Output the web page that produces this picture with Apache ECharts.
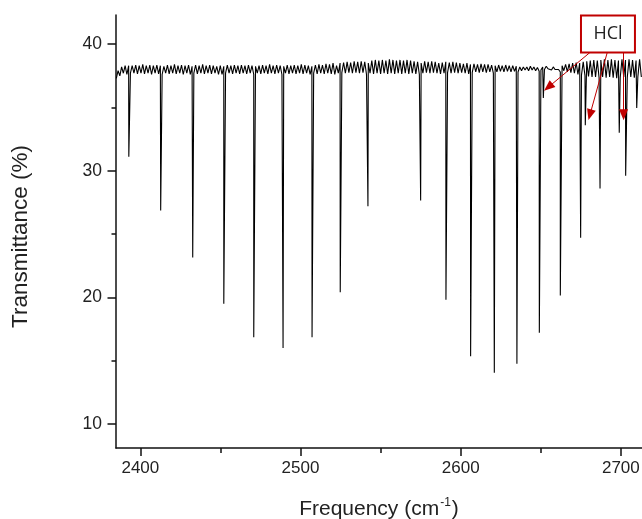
<!DOCTYPE html>
<html>
<head>
<meta charset="utf-8">
<script src="https://cdn.jsdelivr.net/npm/echarts@6/dist/echarts.min.js"></script>
<style>
html,body{margin:0;padding:0;background:#fff;}
#chart{width:642px;height:519px;}
</style>
</head>
<body>
<div id="chart"></div>
<script>
// ---- data ----
const xTicks = [2400, 2500, 2600, 2700];
const xMinorTicks = [2450, 2550, 2650];
const yTicks = [10, 20, 30, 40];
const yMinorTicks = [15, 25, 35];

// baseline (interference fringe) sampled on a regular grid
const fringeStart = 2385.0;
const fringeStep = 1.1;
const fringeValues = [
  37.3, 37.9, 37.5, 38.2, 37.7, 38.3, 37.6, 38.3, 37.7, 38.3,
  37.7, 38.35, 37.65, 38.3, 37.7, 38.4, 37.65, 38.3, 37.7, 38.35,
  37.6, 38.3, 37.7, 38.35, 37.65, 38.3, 37.6, 38.25, 37.7, 38.35,
  37.65, 38.3, 37.7, 38.4, 37.65, 38.3, 37.7, 38.35, 37.6, 38.3,
  37.7, 38.35, 37.6, 38.25, 37.7, 38.35, 37.65, 38.3, 37.7, 38.4,
  37.65, 38.3, 37.7, 38.35, 37.65, 38.3, 37.7, 38.25, 37.6, 38.3,
  37.6, 38.25, 37.7, 38.35, 37.7, 38.3, 37.65, 38.35, 37.7, 38.3,
  37.65, 38.35, 37.7, 38.3, 37.65, 38.35, 37.7, 38.3, 37.6, 38.25,
  37.7, 38.3, 37.65, 38.35, 37.7, 38.3, 37.65, 38.4, 37.7, 38.3,
  37.65, 38.35, 37.7, 38.3, 37.6, 38.25, 37.7, 38.35, 37.65, 38.3,
  37.7, 38.35, 37.65, 38.3, 37.7, 38.4, 37.65, 38.35, 37.7, 38.3,
  37.6, 38.25, 37.7, 38.35, 37.65, 38.4, 37.7, 38.35, 37.65, 38.45,
  37.7, 38.4, 37.65, 38.5, 37.6, 38.3, 37.7, 38.5, 37.75, 38.55,
  37.7, 38.6, 37.75, 38.55, 37.7, 38.65, 37.75, 38.6, 37.7, 38.65,
  37.75, 38.6, 37.6, 38.5, 37.7, 38.7, 37.65, 38.75, 37.7, 38.7,
  37.65, 38.75, 37.7, 38.7, 37.65, 38.8, 37.7, 38.75, 37.65, 38.7,
  37.7, 38.75, 37.65, 38.7, 37.7, 38.75, 37.65, 38.7, 37.7, 38.65,
  37.65, 38.6, 37.6, 38.5, 37.7, 38.65, 37.75, 38.6, 37.7, 38.65,
  37.75, 38.6, 37.7, 38.5, 37.65, 38.55, 37.7, 38.6, 37.75, 38.55,
  37.7, 38.6, 37.75, 38.55, 37.7, 38.5, 37.75, 38.45, 37.7, 38.5,
  37.65, 38.4, 37.75, 38.45, 37.8, 38.4, 37.75, 38.45, 37.8, 38.4,
  37.75, 38.4, 37.8, 38.35, 37.7, 38.3, 37.8, 38.35, 37.85, 38.3,
  37.8, 38.35, 37.85, 38.3, 37.8, 38.3, 37.85, 38.25, 37.8, 38.2,
  37.9, 38.2, 37.95, 38.2, 37.9, 38.25, 37.95, 38.2, 37.9, 38.15,
  37.85, 37.95, 38.2, 38.0, 38.25, 38.05, 38.2, 37.95, 38.2, 38.0,
  38.15, 38.0, 37.8, 38.3, 37.9, 38.4, 37.8, 38.45, 37.75, 38.5,
  37.7, 38.55, 37.6, 38.5, 37.55, 38.6, 37.5, 38.65, 37.45, 38.7,
  37.4, 38.75, 37.4, 38.7, 37.35, 38.75, 37.4, 38.8, 37.35, 38.75,
  37.4, 38.8, 37.35, 38.75, 37.3, 38.7, 37.35, 38.8, 37.4, 38.75,
  37.35, 38.8, 37.4, 38.75, 37.35, 38.7, 37.4, 38.8, 37.4
];

// absorption lines: position (cm-1) and minimum transmittance (%)
const dipFreq = [
  2392.8, 2412.7, 2432.7, 2452.1, 2470.8, 2489.1, 2507.2, 2524.8, 2542.1,
  2575.0, 2590.8, 2606.2, 2621.0, 2635.1, 2649.1, 2651.6, 2662.2, 2674.9,
  2677.8, 2687.0, 2699.0, 2703.0, 2709.9
];
const dipDepth = [
  31.1, 26.85, 23.15, 19.5, 16.85, 16.0, 16.85, 20.4, 27.2,
  27.65, 19.8, 15.35, 14.05, 14.75, 17.2, 35.75, 20.15, 24.7,
  33.6, 28.6, 33.0, 29.6, 34.95
];

// annotation
const noteText = 'HCl';
const noteBox = [[2675.1, 42.26], [2708.8, 39.34]];
const noteArrows = [
  [[2680.7, 39.34], [2654.7, 36.6]],
  [[2691.5, 39.34], [2680.7, 34.42]],
  [[2701.7, 39.34], [2701.7, 34.42]]
];

// ---- build series ----
const points = fringeValues.map((v, i) => [fringeStart + i * fringeStep, v]);
dipFreq.forEach((f, k) => points.push([f, dipDepth[k]]));
points.sort((a, b) => a[0] - b[0]);

const X_MIN = 2384.8, X_MAX = 2713.2, Y_MIN = 8.1, Y_MAX = 42.3;
const labelFont = 'Liberation Sans';
const red = '#c00000';
const plain = v => String(Math.round(v));

const chart = echarts.init(document.getElementById('chart'), null, {renderer: 'canvas'});
chart.setOption({
  animation: false,
  backgroundColor: '#fff',
  grid: {left: 116, right: 0, top: 15, bottom: 71, containLabel: false, outerBoundsMode: 'none'},
  xAxis: [
    {
      type: 'value', min: X_MIN, max: X_MAX, position: 'bottom',
      name: '{a|Frequency (cm}{s|-1}{a|)}',
      nameLocation: 'middle', nameGap: 49,
      nameTextStyle: {
        rich: {
          a: {fontFamily: labelFont, fontSize: 21, color: '#222'},
          s: {fontFamily: labelFont, fontSize: 12, color: '#222', verticalAlign: 'top', padding: [0, 1, 12, 1]}
        }
      },
      axisLine: {show: true, lineStyle: {color: '#111', width: 1.5}},
      axisTick: {show: true, inside: false, length: 8, customValues: xTicks, lineStyle: {color: '#111', width: 1.5}},
      axisLabel: {show: true, customValues: xTicks, formatter: plain, margin: 12, fontFamily: labelFont, fontSize: 17, color: '#222'},
      splitLine: {show: false}
    },
    {
      type: 'value', min: X_MIN, max: X_MAX, position: 'bottom', gridIndex: 0,
      axisLine: {show: false},
      axisTick: {show: true, inside: false, length: 5, customValues: xMinorTicks, lineStyle: {color: '#111', width: 1.5}},
      axisLabel: {show: false},
      splitLine: {show: false}
    }
  ],
  yAxis: [
    {
      type: 'value', min: Y_MIN, max: Y_MAX, position: 'left',
      name: 'Transmittance (%)',
      nameLocation: 'middle', nameGap: 84, nameRotate: 90,
      nameTextStyle: {fontFamily: labelFont, fontSize: 22.5, color: '#222', padding: [0, 10, 0, 0]},
      axisLine: {show: true, lineStyle: {color: '#111', width: 1.5}},
      axisTick: {show: true, inside: false, length: 8.5, customValues: yTicks, lineStyle: {color: '#111', width: 1.5}},
      axisLabel: {show: true, customValues: yTicks, formatter: plain, margin: 14, fontFamily: labelFont, fontSize: 17.5, color: '#222'},
      splitLine: {show: false}
    },
    {
      type: 'value', min: Y_MIN, max: Y_MAX, position: 'left', gridIndex: 0,
      axisLine: {show: false},
      axisTick: {show: true, inside: false, length: 4.5, customValues: yMinorTicks, lineStyle: {color: '#111', width: 1.5}},
      axisLabel: {show: false},
      splitLine: {show: false}
    }
  ],
  series: [{
    type: 'line',
    xAxisIndex: 0, yAxisIndex: 0,
    data: points,
    showSymbol: false,
    symbol: 'none',
    sampling: null,
    lineStyle: {color: '#000', width: 1.1},
    silent: true,
    z: 2,
    markArea: {
      silent: true,
      itemStyle: {color: '#fff', opacity: 1, borderColor: red, borderWidth: 2},
      label: {show: true, position: 'inside', fontFamily: 'Open Sans', fontSize: 18, color: '#222'},
      data: [[
        {name: noteText, coord: noteBox[0]},
        {coord: noteBox[1]}
      ]]
    },
    markLine: {
      silent: true,
      symbol: ['none', 'triangle'],
      symbolSize: [9, 11],
      label: {show: false},
      lineStyle: {color: red, width: 1, type: 'solid'},
      itemStyle: {color: red},
      data: noteArrows.map(a => [{coord: a[0]}, {coord: a[1]}])
    }
  }]
});
</script>
</body>
</html>
